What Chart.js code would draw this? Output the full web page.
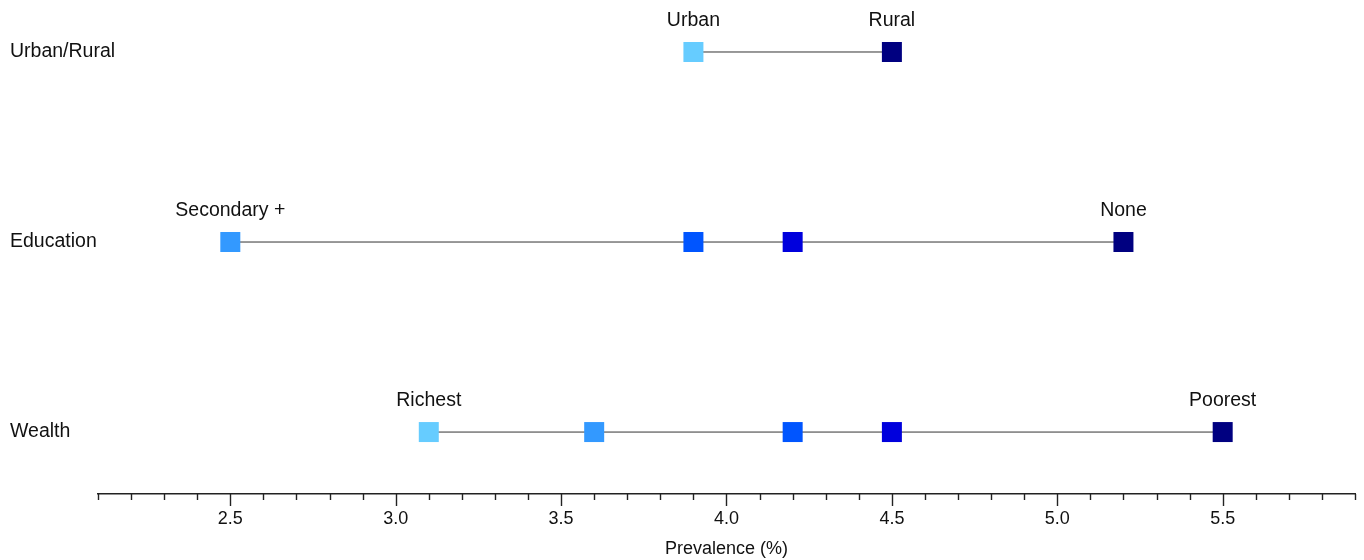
<!DOCTYPE html>
<html>
<head>
<meta charset="utf-8">
<script src="https://cdn.jsdelivr.net/npm/chart.js@4/dist/chart.umd.min.js"></script>
<style>
  html, body { margin: 0; padding: 0; background: #fff; }
  #wrap { width: 1364px; height: 560px; position: relative; }
</style>
</head>
<body>
<div id="wrap"><canvas id="c"></canvas></div>
<script>
// ---- data ----
const rowNames = ['Urban/Rural', 'Education', 'Wealth'];
const rowIndex = [0, 1, 2];
const urbanRuralValues = [3.9, 4.5];
const educationValues = [2.5, 3.9, 4.2, 5.2];
const wealthValues = [3.1, 3.6, 4.2, 4.5, 5.5];
const urbanRuralColors = ['#66CCFF', '#000080'];
const educationColors = ['#3399FF', '#0055FF', '#0000DD', '#000080'];
const wealthColors = ['#66CCFF', '#3399FF', '#0055FF', '#0000DD', '#000080'];
const urbanRuralEndLabels = ['Urban', 'Rural'];
const educationEndLabels = ['Secondary +', 'None'];
const wealthEndLabels = ['Richest', 'Poorest'];
const xMin = 2.1, xMax = 5.9;
const majorTickLabels = ['2.5', '3.0', '3.5', '4.0', '4.5', '5.0', '5.5'];
const axisTitle = 'Prevalence (%)';

const rowsValues = [urbanRuralValues, educationValues, wealthValues];
const rowsColors = [urbanRuralColors, educationColors, wealthColors];
const rowsEndLabels = [urbanRuralEndLabels, educationEndLabels, wealthEndLabels];

const majorTicks = majorTickLabels.map(Number);
const allTicks = [];
for (let i = Math.round(xMin * 10); i <= Math.round(xMax * 10); i++) allTicks.push(i / 10);

const datasets = rowsValues.map((vals, r) => ({
  label: rowNames[r],
  data: vals.map(v => ({ x: v, y: rowIndex[r] })),
  showLine: true,
  borderColor: '#333',
  borderWidth: 1,
  pointStyle: 'rect',
  pointRadius: 14.14,
  pointHoverRadius: 14.14,
  pointBorderWidth: 0,
  pointBackgroundColor: rowsColors[r],
  clip: false,
  endLabels: rowsEndLabels[r]
}));

const FONT = '"Liberation Sans", Arial, Helvetica, sans-serif';

const customDraw = {
  id: 'customDraw',
  afterDraw(chart) {
    const ctx = chart.ctx;
    const xs = chart.scales.x;
    const ys = chart.scales.y;
    // tick marks
    ctx.save();
    ctx.strokeStyle = '#222';
    ctx.lineWidth = 1.4;
    allTicks.forEach(v => {
      const px = Math.round(xs.getPixelForValue(v)) + 0.5;
      const major = majorTicks.some(m => Math.abs(m - v) < 1e-6);
      ctx.beginPath();
      ctx.moveTo(px, xs.top);
      ctx.lineTo(px, xs.top + (major ? 12 : 6));
      ctx.stroke();
    });
    ctx.restore();
    // row labels (category names on the left)
    ctx.save();
    ctx.fillStyle = '#111';
    ctx.font = '19.5px ' + FONT;
    ctx.textAlign = 'left';
    ctx.textBaseline = 'middle';
    rowIndex.forEach((v, i) => {
      ctx.fillText(rowNames[i], chart.chartArea.left - 88, ys.getPixelForValue(v));
    });
    // end labels
    ctx.textAlign = 'center';
    chart.data.datasets.forEach((ds, di) => {
      const pts = chart.getDatasetMeta(di).data;
      const first = pts[0], last = pts[pts.length - 1];
      ctx.fillText(ds.endLabels[0], first.x, first.y - 31);
      ctx.fillText(ds.endLabels[1], last.x, last.y - 31);
    });
    ctx.restore();
  }
};

new Chart(document.getElementById('c'), {
  type: 'scatter',
  data: { datasets },
  options: {
    responsive: true,
    maintainAspectRatio: false,
    animation: false,
    layout: { autoPadding: false, padding: { left: 10, top: 10, right: 9, bottom: 0 } },
    plugins: { legend: { display: false }, tooltip: { enabled: false } },
    scales: {
      x: {
        type: 'linear',
        min: xMin,
        max: xMax,
        afterBuildTicks: (s) => { s.ticks = majorTicks.map(v => ({ value: v })); },
        afterFit: (s) => { s.height = 66; s.paddingRight = 0; s.paddingLeft = 0; },
        ticks: {
          callback: (v) => majorTickLabels[majorTicks.findIndex(m => Math.abs(m - v) < 1e-6)] || '',
          font: { family: FONT, size: 18 },
          color: '#111',
          padding: 2,
          maxRotation: 0,
          autoSkip: false
        },
        grid: { display: true, drawOnChartArea: false, drawTicks: true, tickLength: 12, tickColor: 'transparent', color: 'transparent' },
        border: { display: true, color: '#222', width: 1.5 },
        title: { display: true, text: axisTitle, font: { family: FONT, size: 18 }, color: '#111', padding: { top: 0, bottom: 0 } }
      },
      y: {
        type: 'linear',
        reverse: true,
        min: -0.221,
        max: 2.326,
        afterBuildTicks: (s) => { s.ticks = rowIndex.map(v => ({ value: v })); },
        afterFit: (s) => { s.width = 88; s.paddingTop = 0; s.paddingBottom = 0; },
        ticks: { display: false },
        grid: { display: false },
        border: { display: false }
      }
    }
  },
  plugins: [customDraw]
});
</script>
</body>
</html>
